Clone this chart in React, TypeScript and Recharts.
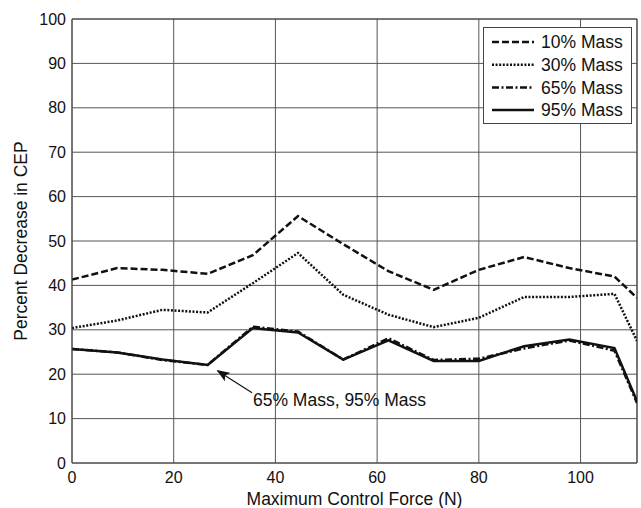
import React from "react";
import {
  LineChart,
  Line,
  XAxis,
  YAxis,
  CartesianGrid,
  Legend,
  ReferenceLine,
  ReferenceDot,
} from "recharts";

const forceValues = [0, 8.89, 17.78, 26.67, 35.56, 44.44, 53.33, 62.22, 71.11, 80, 88.89, 97.78, 106.67, 111.1];
const mass10 = [41.3, 43.9, 43.5, 42.6, 46.8, 55.6, 49.3, 43.2, 39.0, 43.5, 46.4, 43.9, 42.0, 37.2];
const mass30 = [30.4, 32.1, 34.5, 33.9, 40.5, 47.3, 37.9, 33.4, 30.6, 32.7, 37.4, 37.4, 38.1, 27.5];
const mass65 = [25.7, 24.9, 23.2, 22.1, 30.7, 29.6, 23.3, 28.1, 23.2, 23.5, 25.8, 27.6, 25.3, 13.5];
const mass95 = [25.7, 24.9, 23.3, 22.1, 30.4, 29.4, 23.3, 27.6, 23.0, 23.0, 26.3, 27.8, 25.9, 13.9];

const xTicks = [0, 20, 40, 60, 80, 100];
const yTicks = [0, 10, 20, 30, 40, 50, 60, 70, 80, 90, 100];
const xMax = 111.1;

const seriesNames = ["10% Mass", "30% Mass", "65% Mass", "95% Mass"];
const seriesDash = ["7 3", "2 1.6", "7 2.5 2 2.5", undefined];

const annotationText = "65% Mass, 95% Mass";
const arrowFrom = { x: 35.4, y: 15.8 };
const arrowTo = { x: 28.6, y: 20.8 };
const annotationAnchor = { x: 34.6, y: 14.3 };

const data = forceValues.map((f, i) => ({
  force: f,
  m10: mass10[i],
  m30: mass30[i],
  m65: mass65[i],
  m95: mass95[i],
}));

const FONT = "'Liberation Sans', Arial, sans-serif";
const INK = "#111";

const LegendBox = () => (
  <svg width={150} height={98} style={{ display: "block" }}>
    <rect x={0.5} y={0.5} width={148} height={96} fill="#fff" stroke="#444" strokeWidth={1} />
    {seriesNames.map((name, i) => {
      const cy = 15 + i * 22.7;
      return (
        <g key={name}>
          <line
            x1={9}
            x2={51}
            y1={cy}
            y2={cy}
            stroke={INK}
            strokeWidth={2.5}
            strokeDasharray={seriesDash[i]}
          />
          <text x={58} y={cy} dy="0.36em" fontSize={17.5} fontFamily={FONT} fill={INK}>
            {name}
          </text>
        </g>
      );
    })}
  </svg>
);

export default function App() {
  return (
    <div style={{ position: "absolute", left: 0, top: 0, width: 641, height: 508, background: "#fff" }}>
      <LineChart
        width={641}
        height={508}
        data={data}
        margin={{ top: 19, right: 4, left: 0, bottom: 0 }}
        style={{ fontFamily: FONT }}
      >
        <defs>
          <marker
            id="arrowHead"
            markerWidth={13}
            markerHeight={10}
            refX={12}
            refY={5}
            orient="auto"
            markerUnits="userSpaceOnUse"
          >
            <path d="M0,0 L13,5 L0,10 L3,5 Z" fill={INK} />
          </marker>
        </defs>
        <CartesianGrid stroke="#555" strokeWidth={1} ticks={xTicks} />
        <XAxis
          dataKey="force"
          type="number"
          domain={[0, xMax]}
          ticks={xTicks}
          allowDataOverflow
          height={45}
          tickLine={false}
          tickSize={0}
          tickMargin={9}
          axisLine={{ stroke: "#444", strokeWidth: 1 }}
          tick={{ fontSize: 16, fill: INK, fontFamily: FONT }}
          label={{
            value: "Maximum Control Force (N)",
            position: "insideBottom",
            offset: 3,
            style: { fontSize: 17.5, fill: INK, fontFamily: FONT },
          }}
        />
        <YAxis
          type="number"
          domain={[0, 100]}
          ticks={yTicks}
          width={72}
          tickLine={false}
          tickSize={0}
          tickMargin={6}
          axisLine={{ stroke: "#444", strokeWidth: 1 }}
          tick={{ fontSize: 16, fill: INK, fontFamily: FONT }}
          label={{
            value: "Percent Decrease in CEP",
            angle: -90,
            position: "insideLeft",
            offset: 21,
            style: { fontSize: 17.5, fill: INK, fontFamily: FONT, textAnchor: "middle" },
          }}
        />
        <ReferenceLine x={xMax} stroke="#444" strokeWidth={1} ifOverflow="extendDomain" />
        <ReferenceLine y={100} stroke="#444" strokeWidth={1} />
        <Line
          type="linear"
          dataKey="m10"
          name={seriesNames[0]}
          stroke={INK}
          strokeWidth={2.5}
          strokeDasharray={seriesDash[0]}
          dot={false}
          isAnimationActive={false}
        />
        <Line
          type="linear"
          dataKey="m30"
          name={seriesNames[1]}
          stroke={INK}
          strokeWidth={2.5}
          strokeDasharray={seriesDash[1]}
          dot={false}
          isAnimationActive={false}
        />
        <Line
          type="linear"
          dataKey="m65"
          name={seriesNames[2]}
          stroke={INK}
          strokeWidth={2.5}
          strokeDasharray={seriesDash[2]}
          dot={false}
          isAnimationActive={false}
        />
        <Line
          type="linear"
          dataKey="m95"
          name={seriesNames[3]}
          stroke={INK}
          strokeWidth={2.5}
          dot={false}
          isAnimationActive={false}
        />
        <ReferenceLine
          segment={[arrowFrom, arrowTo]}
          stroke={INK}
          strokeWidth={1.2}
          markerEnd="url(#arrowHead)"
        />
        <ReferenceDot
          x={annotationAnchor.x}
          y={annotationAnchor.y}
          r={0}
          fill="none"
          stroke="none"
          label={{
            value: annotationText,
            position: "right",
            offset: 5,
            style: { fontSize: 17.5, fill: INK, fontFamily: FONT },
          }}
        />
        <Legend
          layout="vertical"
          align="center"
          verticalAlign="middle"
          content={() => <LegendBox />}
          wrapperStyle={{ position: "absolute", left: 483, top: 27, width: 150, height: 98 }}
        />
      </LineChart>
    </div>
  );
}
